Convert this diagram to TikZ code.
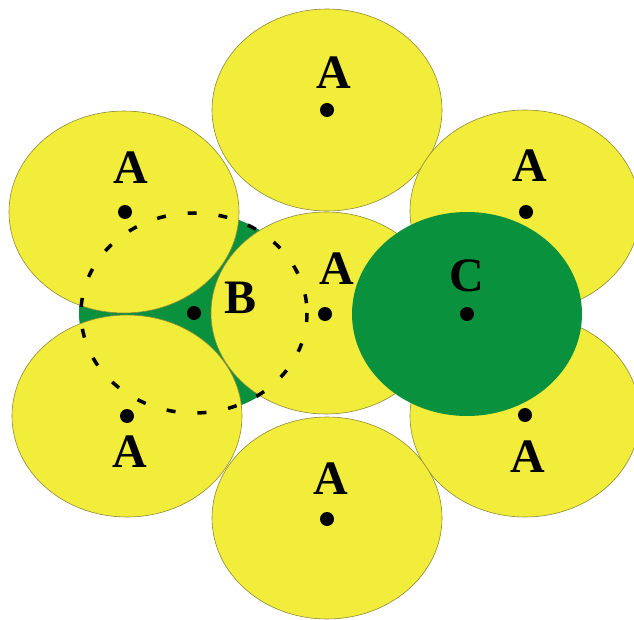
\documentclass[tikz,border=0pt]{standalone}
\usepackage{fontspec}
\setmainfont{Liberation Serif}
\definecolor{ballY}{RGB}{242,236,58}
\definecolor{ballG}{RGB}{10,145,62}
\tikzset{ballA/.style={fill=ballY,draw=olive!60!gray,line width=0.6pt},ballC/.style={fill=ballG},lbl/.style={font=\bfseries\fontsize{48}{48}\selectfont,inner sep=0pt},dot/.style={circle,fill=black,inner sep=0pt,minimum size=14pt},ring/.style={line width=3.5pt,dash pattern=on 9pt off 22pt}}
\begin{document}
\begin{tikzpicture}[x=1pt,y=-1pt]
\useasboundingbox(0,0)rectangle(634,620);
% layer B sits underneath
\coordinate(cB)at(194,313);
\fill[ballC](cB)ellipse[x radius=115,y radius=101];
\foreach\n/\x/\y in{t/327/110,ul/124/212,ll/127/416,m/326/313,ur/525/211,lr/525/416,b/327/518}
  \draw[ballA](\x,\y)ellipse[x radius=115,y radius=101];
\draw[ring](cB)ellipse[x radius=113,y radius=100];
\foreach\n/\x/\y/\lx/\ly in{t/327/110/334/73,ul/125/212/131/168,ll/127/416/130/452,m/325/314/337/269,ur/526/212/530/166,lr/525/415/528/457,b/327/519/331/479}{
  \node[dot](d\n)at(\x,\y){};
  \node[lbl](l\n)at(\lx,\ly){A};}
\node[dot](dB)at(cB){};
\node[lbl](lB)at(241,298){B};
% layer C on top
\coordinate(cC)at(467,314);
\fill[ballC](cC)ellipse[x radius=115,y radius=102];
\node[dot](dC)at(cC){};
\node[lbl](lC)at(467,276){C};
\end{tikzpicture}
\end{document}
